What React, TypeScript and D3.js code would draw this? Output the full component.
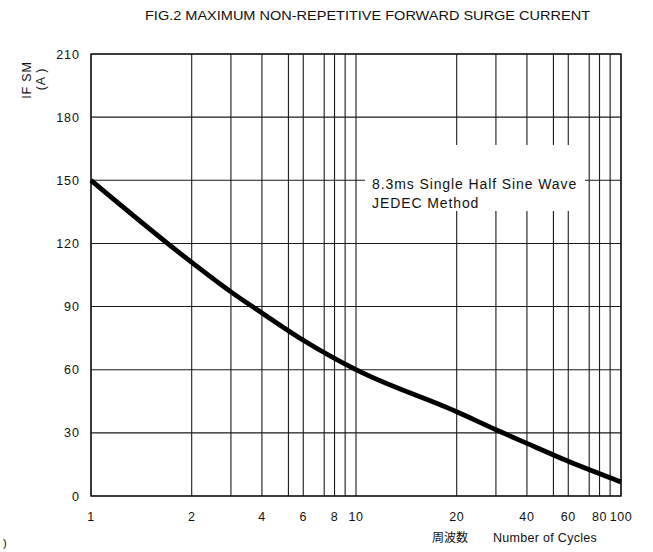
import React from "react";
import * as d3 from "d3";

// ---- data ----
const cycleGrid = [1, 2, 3, 4, 5, 6, 7, 8, 9, 10, 20, 30, 40, 50, 60, 70, 80, 90, 100];
const xTickLabels = [1, 2, 4, 6, 8, 10, 20, 40, 60, 80, 100];
const yTicks = [0, 30, 60, 90, 120, 150, 180, 210];
const curveCycles = [1, 2, 3, 4, 6, 10, 20, 30, 40, 60, 100];
const curveAmps = [150, 111, 97, 87, 74, 60, 40, 31.5, 25, 16.5, 6.7];
// ruling of the printed log paper within one decade (mantissa 1..9)
const paperRuling = [0, 0.38, 0.528, 0.645, 0.745, 0.801, 0.88, 0.919, 0.959];

const W = 653;
const H = 552;
const left = 91;
const right = 621;
const top = 54;
const bottom = 496;

function paperPos(v: number) {
  const dec = Math.floor(Math.log10(v) + 1e-9);
  const m = Math.round(v / Math.pow(10, dec));
  return (dec + paperRuling[m - 1]) / 2;
}

export default function App() {
  const x = d3
    .scaleLinear()
    .domain(cycleGrid)
    .range(cycleGrid.map((v) => left + (right - left) * paperPos(v)));
  const y = d3.scaleLinear().domain([0, 210]).range([bottom, top]);

  const pts = curveCycles.map((c, i) => [x(c), y(curveAmps[i])] as [number, number]);
  const line = d3.line().curve(d3.curveMonotoneX)(pts) || "";

  const font = "'Liberation Sans', Arial, sans-serif";

  return (
    <svg width={W} height={H} style={{ position: "absolute", left: 0, top: 0, background: "#fff" }}>
      <rect x={0} y={0} width={W} height={H} fill="#fff" />
      <text x={145} y={20} fontFamily={font} fontSize={13} textLength={445} lengthAdjust="spacingAndGlyphs" fill="#111">
        FIG.2 MAXIMUM NON-REPETITIVE  FORWARD SURGE CURRENT
      </text>

      {/* grid */}
      {cycleGrid.map((c) => (
        <line key={"v" + c} x1={x(c)} x2={x(c)} y1={top} y2={bottom} stroke="#1a1a1a" strokeWidth={1.1} />
      ))}
      {yTicks.map((t) => (
        <line key={"h" + t} x1={left} x2={right} y1={y(t)} y2={y(t)} stroke="#1a1a1a" strokeWidth={1.1} />
      ))}
      <rect x={left} y={top} width={right - left} height={bottom - top} fill="none" stroke="#1a1a1a" strokeWidth={1.4} />

      {/* annotation box */}
      <rect x={365} y={145} width={220} height={66} fill="#fff" />
      <text x={372} y={189} fontFamily={font} fontSize={14} letterSpacing={0.9} fill="#111">
        8.3ms Single Half Sine Wave
      </text>
      <text x={372} y={208} fontFamily={font} fontSize={14} letterSpacing={0.9} fill="#111">
        JEDEC Method
      </text>

      {/* curve */}
      <path d={line} fill="none" stroke="#000" strokeWidth={4.8} />

      {/* y ticks */}
      {yTicks.map((t) => (
        <text key={"yt" + t} x={80} y={y(t) + 4.5} textAnchor="end" fontFamily={font} fontSize={12.5} letterSpacing={1} fill="#111">
          {t}
        </text>
      ))}
      {/* x ticks */}
      {xTickLabels.map((t) => (
        <text key={"xt" + t} x={x(t)} y={521} textAnchor="middle" fontFamily={font} fontSize={12.5} letterSpacing={0.6} fill="#111">
          {t}
        </text>
      ))}

      {/* axis titles */}
      <text transform="translate(31,80) rotate(-90)" textAnchor="middle" fontFamily={font} fontSize={12.5} letterSpacing={0.8} fill="#111">
        IF SM
      </text>
      <text transform="translate(45,79) rotate(-90)" textAnchor="middle" fontFamily={font} fontSize={12.5} letterSpacing={0.8} fill="#111">
        (A )
      </text>
      <text x={432} y={542} fontFamily="'Noto Sans CJK JP', 'Noto Sans CJK SC', sans-serif" fontSize={12} fill="#111">
        周波数
      </text>
      <text x={493} y={542} fontFamily={font} fontSize={12.5} letterSpacing={0.3} fill="#111">
        Number of Cycles
      </text>
      <text x={3} y={547} fontFamily={font} fontSize={11} fill="#111">
        )
      </text>
    </svg>
  );
}
